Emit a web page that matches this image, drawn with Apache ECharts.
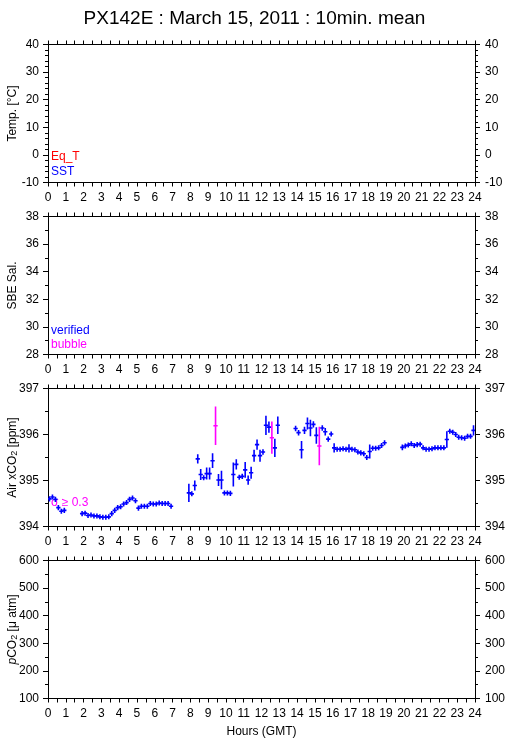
<!DOCTYPE html>
<html>
<head>
<meta charset="utf-8">
<script src="https://cdn.jsdelivr.net/npm/echarts@6/dist/echarts.min.js"></script>
<style>html,body{margin:0;padding:0;background:#fff}#c{width:509px;height:739px}</style>
</head>
<body>
<div id="c"></div>
<script>
// ---- Data (Air xCO2, 10-min means, hours GMT) ----
const verifiedHours = [
  0.083,0.25,0.417,0.583,0.75,0.917,
  1.917,2.083,2.25,2.417,2.583,2.75,2.917,3.083,3.25,3.417,3.583,3.75,3.917,4.083,4.25,4.417,4.583,4.75,4.917,5.083,5.25,5.417,5.583,5.75,5.917,6.083,6.25,6.417,6.583,6.75,6.917,
  7.917,8.083,8.25,8.417,8.583,8.75,8.917,9.083,9.25,9.583,9.75,9.917,10.083,10.25,10.417,10.583,10.75,10.917,11.083,11.25,11.417,11.583,11.75,11.917,12.083,12.25,12.417,12.75,12.917,
  13.917,14.083,14.25,14.417,14.583,14.75,14.917,15.083,15.417,15.583,15.75,15.917,16.083,16.25,16.417,16.583,16.75,16.917,17.083,17.25,17.417,17.583,17.75,17.917,18.083,18.25,18.417,18.583,18.75,18.917,
  19.917,20.083,20.25,20.417,20.583,20.75,20.917,21.083,21.25,21.417,21.583,21.75,21.917,22.083,22.25,22.417,22.583,22.75,22.917,23.083,23.25,23.417,23.583,23.75,23.917
];
const verifiedXco2 = [
  394.60,394.64,394.59,394.41,394.33,394.35,
  394.28,394.29,394.24,394.25,394.23,394.23,394.21,394.20,394.20,394.21,394.28,394.35,394.41,394.43,394.49,394.52,394.59,394.62,394.56,394.40,394.44,394.44,394.44,394.50,394.49,394.49,394.51,394.50,394.50,394.50,394.44,
  394.73,394.71,394.89,395.47,395.13,395.06,395.15,395.15,395.43,395.01,395.01,394.73,394.73,394.72,395.13,395.35,395.07,395.09,395.23,395.01,395.17,395.54,395.78,395.54,395.62,396.20,396.16,395.71,396.20,
  396.13,396.04,395.67,396.09,396.24,396.14,396.22,395.98,396.14,396.06,395.90,396.01,395.71,395.68,395.68,395.69,395.68,395.70,395.68,395.67,395.62,395.60,395.58,395.50,395.63,395.70,395.70,395.71,395.76,395.82,
  395.72,395.75,395.77,395.80,395.76,395.78,395.79,395.71,395.68,395.68,395.69,395.71,395.71,395.71,395.71,395.89,396.07,396.05,396.00,395.94,395.93,395.92,395.96,395.96,396.09
];
const verifiedSigma = [
  0.05,0.05,0.05,0.05,0.05,0.05,
  0.05,0.05,0.05,0.05,0.05,0.05,0.05,0.05,0.05,0.05,0.05,0.05,0.05,0.05,0.05,0.05,0.05,0.05,0.05,0.05,0.05,0.05,0.05,0.05,0.05,0.05,0.05,0.05,0.05,0.05,0.05,
  0.20,0.05,0.11,0.10,0.12,0.05,0.13,0.13,0.16,0.13,0.20,0.05,0.05,0.05,0.26,0.11,0.05,0.05,0.17,0.10,0.13,0.13,0.11,0.13,0.06,0.21,0.12,0.20,0.19,
  0.06,0.06,0.19,0.08,0.13,0.18,0.07,0.18,0.06,0.08,0.05,0.05,0.10,0.05,0.05,0.05,0.05,0.09,0.05,0.05,0.05,0.05,0.05,0.05,0.15,0.05,0.05,0.05,0.05,0.05,
  0.06,0.05,0.05,0.05,0.05,0.05,0.05,0.05,0.05,0.05,0.05,0.05,0.05,0.05,0.05,0.18,0.05,0.05,0.05,0.05,0.05,0.05,0.05,0.05,0.11
];
const bubbleHours = [9.417, 12.583, 15.25];
const bubbleXco2  = [396.19, 395.93, 395.75];
const bubbleSigma = [0.42, 0.35, 0.42];

const hourTicks = [0,1,2,3,4,5,6,7,8,9,10,11,12,13,14,15,16,17,18,19,20,21,22,23,24];

// ---- Layout ----
const FONT = '"Liberation Sans", Arial, Helvetica, sans-serif';
const panels = [
  {top: 44.5, name: 'Temp. [°C]', min: -10, max: 40, interval: 10, minor: 5},
  {top: 216.5, name: 'SBE Sal.', min: 28, max: 38, interval: 2, minor: 2},
  {top: 388.5, name: '{n|Air xCO}{s|2}{n| [ppm]}', min: 394, max: 397, interval: 1, minor: 2},
  {top: 560.5, name: '{i|p}{n|CO}{s|2}{n| [μ atm]}', min: 100, max: 600, interval: 100, minor: 2}
];
const H = 138;

const grids = [], xAxes = [], yAxes = [];
panels.forEach((p, i) => {
  grids.push({left: 48, right: 34, top: p.top, height: H, containLabel: false, outerBoundsMode: 'none'});
  const xBase = {
    type: 'value', gridIndex: i, min: hourTicks[0], max: hourTicks[hourTicks.length-1], interval: 1,
    axisLine: {show: true, onZero: false, lineStyle: {color: '#000', width: 1}},
    axisTick: {show: true, length: 4, lineStyle: {color: '#000'}},
    minorTick: {show: true, splitNumber: 2, length: 4, lineStyle: {color: '#000'}},
    splitLine: {show: false}
  };
  xAxes.push(Object.assign({}, xBase, {
    position: 'bottom',
    axisLabel: {show: true, margin: 9, color: '#000', fontSize: 12, fontFamily: FONT},
    name: i === 3 ? 'Hours (GMT)' : '', nameLocation: 'middle', nameGap: 27, nameMoveOverlap: false,
    nameTextStyle: {color: '#000', fontSize: 12, fontFamily: FONT}
  }));
  xAxes.push(Object.assign({}, xBase, {position: 'top', axisLabel: {show: false}}));
  const yBase = {
    type: 'value', gridIndex: i, min: p.min, max: p.max, interval: p.interval,
    axisLine: {show: true, onZero: false, lineStyle: {color: '#000', width: 1}},
    axisTick: {show: true, length: 5, lineStyle: {color: '#000'}},
    minorTick: {show: true, splitNumber: p.minor, length: 3, lineStyle: {color: '#000'}},
    splitLine: {show: false},
    axisLabel: {show: true, color: '#000', fontSize: 12, fontFamily: FONT}
  };
  yAxes.push(Object.assign({}, yBase, {
    position: 'left',
    axisLabel: Object.assign({}, yBase.axisLabel, {margin: 9}),
    name: p.name, nameLocation: 'middle', nameGap: 29, nameMoveOverlap: false,
    nameTextStyle: {
      color: '#000', fontSize: 12, fontFamily: FONT,
      rich: {
        n: {fontSize: 12, fontFamily: FONT, color: '#000'},
        s: {fontSize: 9, fontFamily: FONT, color: '#000', verticalAlign: 'bottom'},
        i: {fontSize: 12, fontFamily: FONT, color: '#000', fontStyle: 'italic'}
      }
    }
  }));
  yAxes.push(Object.assign({}, yBase, {
    position: 'right',
    axisLabel: Object.assign({}, yBase.axisLabel, {margin: 10})
  }));
});

function crossSeries(name, hours, vals, sig, color) {
  return {
    name: name, type: 'custom', xAxisIndex: 4, yAxisIndex: 4, clip: true,
    data: hours.map((h, k) => [h, vals[k], sig[k]]),
    renderItem: function (params, api) {
      const x = api.value(0), y = api.value(1), e = Math.max(api.value(2), 0.055);
      const c = api.coord([x, y]);
      const l = api.coord([x - 0.12, y]);
      const r = api.coord([x + 0.12, y]);
      const t = api.coord([x, y + e]);
      const b = api.coord([x, y - e]);
      const style = {stroke: color, lineWidth: 1.6};
      return {
        type: 'group',
        children: [
          {type: 'line', shape: {x1: l[0], y1: c[1], x2: r[0], y2: c[1]}, style: style},
          {type: 'line', shape: {x1: c[0], y1: t[1], x2: c[0], y2: b[1]}, style: style}
        ]
      };
    }
  };
}

const chart = echarts.init(document.getElementById('c'), null, {renderer: 'canvas'});
chart.setOption({
  backgroundColor: '#fff',
  animation: false,
  title: {
    text: 'PX142E : March 15, 2011 : 10min. mean', left: 'center', top: 4,
    textStyle: {color: '#000', fontSize: 19, fontWeight: 'normal', fontFamily: FONT}
  },
  grid: grids,
  xAxis: xAxes,
  yAxis: yAxes,
  series: [
    crossSeries('verified', verifiedHours, verifiedXco2, verifiedSigma, '#0000ff'),
    crossSeries('bubble', bubbleHours, bubbleXco2, bubbleSigma, '#ff00ff')
  ],
  graphic: [
    {type: 'text', left: 51, top: 151, style: {text: 'Eq_T', fill: '#ff0000', font: '12px ' + FONT}},
    {type: 'text', left: 51, top: 166, style: {text: 'SST', fill: '#0000ff', font: '12px ' + FONT}},
    {type: 'text', left: 51, top: 325, style: {text: 'verified', fill: '#0000ff', font: '12px ' + FONT}},
    {type: 'text', left: 51, top: 339, style: {text: 'bubble', fill: '#ff00ff', font: '12px ' + FONT}},
    {type: 'text', left: 51, top: 497, style: {text: 'σ ≥ 0.3', fill: '#ff00ff', font: '12px ' + FONT}}
  ]
});
</script>
</body>
</html>
